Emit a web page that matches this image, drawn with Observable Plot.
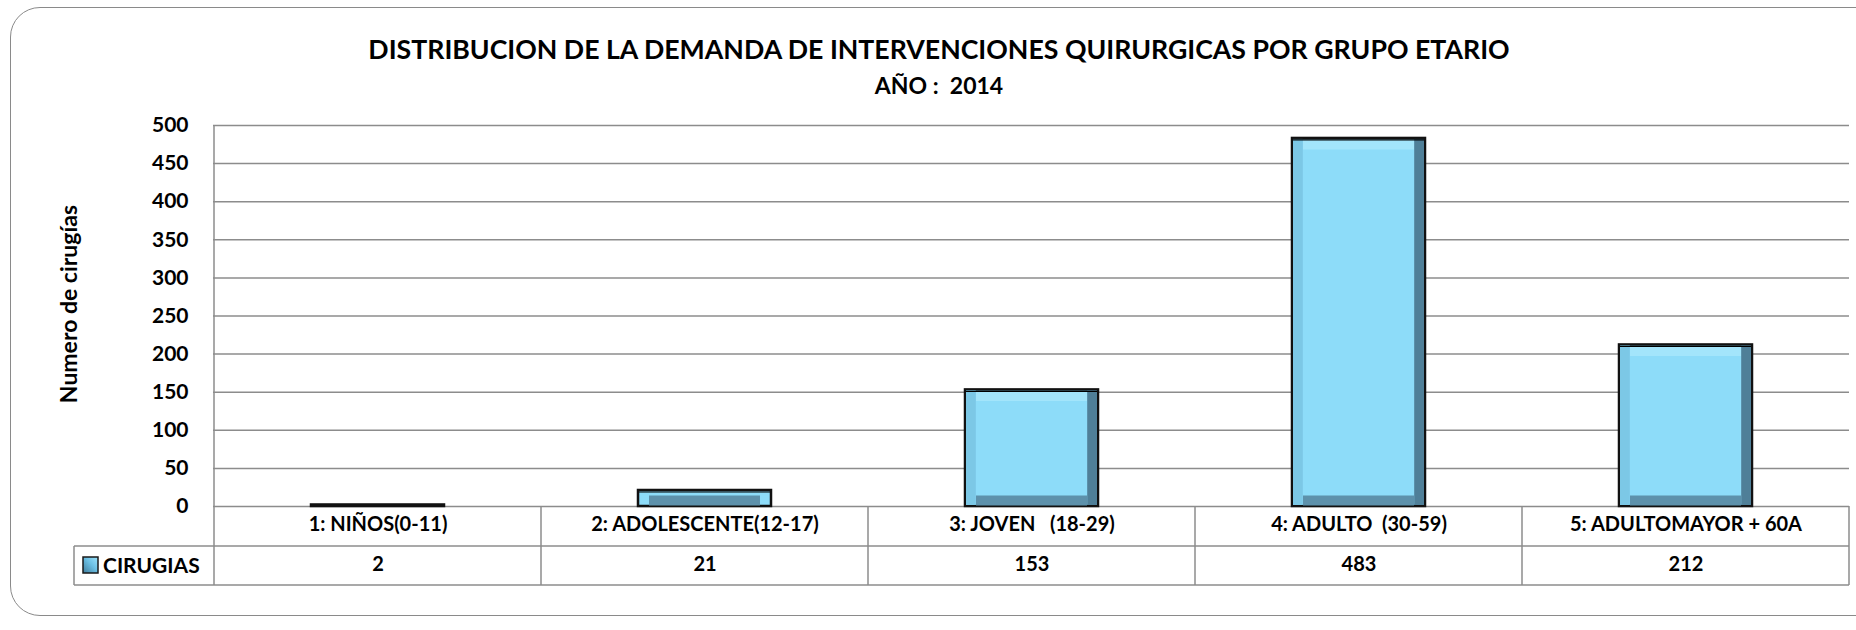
<!DOCTYPE html>
<html>
<head>
<meta charset="utf-8">
<script src="https://cdn.jsdelivr.net/npm/d3@7"></script>
<script src="https://cdn.jsdelivr.net/npm/@observablehq/plot@0.6"></script>
<style>
  html, body { margin: 0; padding: 0; background: #fff; }
  #wrap { position: relative; width: 1856px; height: 630px; overflow: hidden; font-family: Lato, "Open Sans", sans-serif; }
  #frame { position: absolute; left: 10px; top: 7px; width: 1900px; height: 609px; border: 1.5px solid #8a8a8a; border-radius: 30px; box-sizing: border-box; }
  .ttl { position: absolute; left: 0; width: 1878px; text-align: center; font-weight: bold; color: #000; white-space: pre; }
  #chart { position: absolute; left: 0; top: 0; }
  #chart svg text { white-space: pre; }
</style>
</head>
<body>
<div id="wrap">
  <div id="frame"></div>
  <div class="ttl" id="t1" style="top:33px;font-size:26.7px;">DISTRIBUCION DE LA DEMANDA DE INTERVENCIONES QUIRURGICAS POR GRUPO ETARIO</div>
  <div class="ttl" id="t2" style="top:71px;font-size:23px;">AÑO :  2014</div>
  <div id="chart"></div>
</div>
<script>
// ---- data ----
const categories = ["1: NIÑOS(0-11)", "2: ADOLESCENTE(12-17)", "3: JOVEN   (18-29)", "4: ADULTO  (30-59)", "5: ADULTOMAYOR + 60A"];
const cirugias = [2, 21, 153, 483, 212];
const seriesName = "CIRUGIAS";
const yTicks = [0, 50, 100, 150, 200, 250, 300, 350, 400, 450, 500];
const yLabel = "Numero de cirugías";

const rows = categories.map((c, i) => ({cat: c, n: cirugias[i]}));
const big = rows.filter(d => d.n >= 50);
const small = rows.filter(d => d.n >= 10);

const IN = 97;       // bar inset within band
const BV = 10;       // bevel size
const gray = "#8c8c8c";

const chart = Plot.plot({
  width: 1856,
  height: 630,
  marginLeft: 213,
  marginRight: 7,
  marginTop: 125,
  marginBottom: 124,
  style: {background: "transparent", fontFamily: "Lato, 'Open Sans', sans-serif", fontWeight: "bold", fontSize: "20px", color: "#000", overflow: "visible"},
  x: {type: "band", domain: categories, padding: 0},
  y: {domain: [0, 500]},
  marks: [
    Plot.ruleY(yTicks, {stroke: gray, strokeWidth: 1.5}),
    Plot.axisY(yTicks, {tickSize: 0, tickPadding: 25, label: null, fontSize: 21}),
    Plot.axisX({tickSize: 0, tickPadding: 10, label: null, fontSize: 20}),
    Plot.axisX({tickSize: 0, tickPadding: 50, label: null, fontSize: 20,
      tickFormat: c => String(cirugias[categories.indexOf(c)])}),
    Plot.text([yLabel], {frameAnchor: "left", textAnchor: "middle", rotate: -90, dx: -144, dy: -12, fontSize: 23, fontWeight: "bold"}),
    // bar face + outline
    Plot.barY(rows, {x: "cat", y: "n", insetLeft: IN, insetRight: IN, fill: "#8ddcf9", stroke: "#111", strokeWidth: 2.5}),
    // left bevel
    Plot.barY(big, {x: "cat", y: "n", insetLeft: IN + 1, insetRight: 327.2 - IN - BV - 1, insetTop: 1, insetBottom: 1, fill: "#7cc8e6"}),
    // right bevel
    Plot.barY(big, {x: "cat", y: "n", insetLeft: 327.2 - IN - BV - 1, insetRight: IN + 1, insetTop: 1, insetBottom: 1, fill: "#4f7f98"}),
    // top bevel
    Plot.tickY(big, {x: "cat", y: "n", dy: 1 + BV / 2, strokeWidth: BV, insetLeft: IN + BV + 1, insetRight: IN + BV + 1, stroke: "#a3e5fb"}),
    // bottom bevel
    Plot.tickY(small, {x: "cat", y: () => 0, dy: -6, strokeWidth: 10, insetLeft: IN + BV + 1, insetRight: IN + BV + 1, stroke: "#5d91ab"}),
    Plot.tickY(small, {x: "cat", y: "n", dy: 1.5, strokeWidth: 1.2, insetLeft: IN + 1, insetRight: IN + 1, stroke: "#000"})
  ]
});
document.getElementById("chart").appendChild(chart);

// ---- data table under the axis, positioned from the Plot scales ----
const sx = chart.scale("x");
const sy = chart.scale("y");
const bw = sx.bandwidth;
const left = sx.apply(categories[0]);
const right = sx.apply(categories[categories.length - 1]) + bw;
const yTop = sy.apply(500);
const y0 = sy.apply(0);
const r1 = y0 + 40;
const r2 = y0 + 79;
const legLeft = 74;

const g = d3.select(chart).append("g").attr("stroke", gray).attr("stroke-width", 1.5).attr("fill", "none");
const line = (x1, y1, x2, y2) => g.append("line").attr("x1", x1).attr("y1", y1).attr("x2", x2).attr("y2", y2);
line(left, yTop, left, r2);
categories.forEach(c => line(sx.apply(c) + bw, y0, sx.apply(c) + bw, r2));
line(legLeft, r1, right, r1);
line(legLeft, r2, right, r2);
line(legLeft, r1, legLeft, r2);

// legend key + series name in the table
const defs = d3.select(chart).append("defs");
const grad = defs.append("linearGradient").attr("id", "keyg").attr("x1", 0).attr("y1", 1).attr("x2", 1).attr("y2", 0);
grad.append("stop").attr("offset", "0%").attr("stop-color", "#3f7c9c");
grad.append("stop").attr("offset", "55%").attr("stop-color", "#6cc0e4");
grad.append("stop").attr("offset", "100%").attr("stop-color", "#9ee3fb");
d3.select(chart).append("rect").attr("x", 83).attr("y", 557).attr("width", 15).attr("height", 16)
  .attr("fill", "url(#keyg)").attr("stroke", "#1a1a1a").attr("stroke-width", 1.5);
d3.select(chart).append("text").attr("x", 103).attr("y", (r1 + r2) / 2).attr("dy", "0.35em")
  .attr("text-anchor", "start").attr("font-size", 21).attr("font-weight", "bold").attr("fill", "#000").text(seriesName);
</script>
</body>
</html>
